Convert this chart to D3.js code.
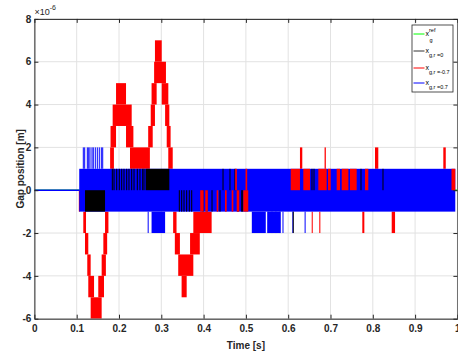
<!DOCTYPE html>
<html>
<head>
<meta charset="utf-8">
<script src="https://cdn.jsdelivr.net/npm/d3@7"></script>
<style>
  body { margin: 0; background: #fff; }
  text { font-family: "Liberation Sans Narrow", "Liberation Sans", Arial, sans-serif; }
</style>
</head>
<body>
<div id="chart"></div>
<script>
// Ticks
const xTicks = [0, 0.1, 0.2, 0.3, 0.4, 0.5, 0.6, 0.7, 0.8, 0.9, 1];
const yTicks = [-6, -4, -2, 0, 2, 4, 6, 8];   // x 1e-6 m

// Reference gap (flat)
const refSeries = [[0, 0], [1, 0]];

// Switching regions: [t0, t1, low level, high level]
const redBands = [
  [0.105, 0.108, -1, 0],
  [0.1156, 0.122, -2, -1],
  [0.1196, 0.1274, -3, -2],
  [0.125, 0.133, -4, -3],
  [0.1274, 0.141, -5, -4],
  [0.133, 0.159, -6, -5],
  [0.151, 0.1645, -5, -4],
  [0.159, 0.169, -4, -3],
  [0.163, 0.172, -3, -2],
  [0.167, 0.175, -2, -1],
  [0.179, 0.188, 1, 2],
  [0.180, 0.193, 2, 3],
  [0.185, 0.230, 3, 4],
  [0.193, 0.2166, 4, 5],
  [0.2166, 0.234, 2, 3],
  [0.226, 0.273, 1, 2],
  [0.269, 0.2797, 2, 3],
  [0.275, 0.285, 3, 4],
  [0.277, 0.289, 4, 5],
  [0.283, 0.311, 5, 6],
  [0.285, 0.301, 6, 7],
  [0.301, 0.3166, 4, 5],
  [0.309, 0.319, 3, 4],
  [0.3128, 0.322, 2, 3],
  [0.3165, 0.327, 1, 2],
  [0.328, 0.336, -2, -1],
  [0.332, 0.344, -3, -2],
  [0.340, 0.3757, -4, -3],
  [0.348, 0.360, -5, -4],
  [0.368, 0.391, -3, -2],
  [0.3757, 0.419, -2, -1]
];
const redSpikes = [
  [0.6278, 0.6333, 1, 2], [0.6860, 0.6890, 1, 2], [0.8052, 0.8130, 1, 2], [0.9667, 0.9725, 1, 2],
  [0.6556, 0.6580, -2, -1], [0.6735, 0.6760, -2, -1], [0.7752, 0.7800, -2, -1], [0.8447, 0.8526, -2, -1]
];
// red visible through the blue band
const redInBand = [
  [0.392, 0.400, -1, 0], [0.404, 0.410, -1, 0], [0.4309, 0.4348, -1, 0], [0.4506, 0.4546, -1, 0],
  [0.4664, 0.4703, -1, 0], [0.4782, 0.4844, -1, 0], [0.4938, 0.5056, -1, 0],
  [0.4747, 0.4787, 0, 1], [0.4991, 0.5030, 0, 1],
  [0.6060, 0.6278, 0, 1], [0.6357, 0.6515, 0, 1], [0.6712, 0.6910, 0, 1], [0.6941, 0.7005, 0, 1],
  [0.7146, 0.7225, 0, 1], [0.7265, 0.7423, 0, 1], [0.7461, 0.7619, 0, 1], [0.7816, 0.7894, 0, 1],
  [0.9860, 0.9950, 0, 1]
];

const blueFlat = [[0, 0], [0.106, 0]];
const blueBands = [
  [0.106, 0.995, -1, 1],
  [0.277, 0.309, -2, -1],
  [0.514, 0.547, -2, -1],
  [0.551, 0.582, -2, -1]
];
// single switches: [t, low, high]
const blueLines = [
  [0.1156, 1, 2], [0.1189, 1, 2], [0.1251, 1, 2], [0.1284, 1, 2], [0.1314, 1, 2], [0.1362, 1, 2],
  [0.1392, 1, 2], [0.1440, 1, 2], [0.1487, 1, 2], [0.1534, 1, 2], [0.1582, 1, 2], [0.1615, 1, 2],
  [0.269, -2, -1], [0.552, -2, -1], [0.5617, -2, -1], [0.571, -2, -1], [0.5806, -2, -1],
  [0.5877, -2, -1], [0.611, -2, -1], [0.640, -2, -1]
];

const blackBands = [
  [0.1196, 0.167, -1, 0],
  [0.263, 0.319, 0, 1]
];
const blackLines = [
  [0.1842, 0, 1], [0.1882, 0, 1], [0.1946, 0, 1], [0.2007, 0, 1], [0.2064, 0, 1], [0.2118, 0, 1],
  [0.2182, 0, 1], [0.2236, 0, 1], [0.2300, 0, 1], [0.2355, 0, 1], [0.2433, 0, 1], [0.2496, 0, 1],
  [0.2560, 0, 1], [0.2591, 0, 1], [0.4459, 0, 1], [0.4624, 0, 1], [0.4742, 0, 1],
  [0.6562, 0, 1], [0.6610, 0, 1], [0.7721, 0, 1], [0.8241, 0, 1],
  [0.3426, -1, 0], [0.3482, -1, 0], [0.3537, -1, 0], [0.3600, -1, 0], [0.3662, -1, 0],
  [0.3719, -1, 0], [0.3986, -1, 0], [0.4080, -1, 0], [0.4199, -1, 0], [0.4388, -1, 0],
  [0.4813, -1, 0], [0.4901, -1, 0], [0.4924, -1, 0], [0.612, -2, -1]
];

const legendNames = [
  { base: "x", sup: "ref", sub: "g", color: "#00ff00" },
  { base: "x", sub: "g,r =0", color: "#333333" },
  { base: "x", sub: "g,r =-0.7", color: "#ff0000" },
  { base: "x", sub: "g,r =0.7", color: "#0000ff" }
];

const width = 458;
const height = 356;

const svg = d3.select("#chart")
    .append("svg")
    .attr("width", width)
    .attr("height", height);

const x = d3.scaleLinear().domain([0, 1]).range([34.4, 457.4]);
const y = d3.scaleLinear().domain([-6, 8]).range([318.7, 18.9]);

// grille
const grid = svg.append("g");
grid.selectAll(null).data(xTicks).enter().append("line")
    .attr("x1", d => x(d)).attr("x2", d => x(d))
    .attr("y1", y(8)).attr("y2", y(-6))
    .attr("stroke", "#e2e2e2");
grid.selectAll(null).data(yTicks).enter().append("line")
    .attr("x1", x(0)).attr("x2", x(1))
    .attr("y1", d => y(d)).attr("y2", d => y(d))
    .attr("stroke", "#e2e2e2");

svg.append("clipPath").attr("id", "clip").append("rect")
    .attr("x", x(0)).attr("y", y(8))
    .attr("width", x(1) - x(0)).attr("height", y(-6) - y(8));

const plot = svg.append("g").attr("clip-path", "url(#clip)");

const line = d3.line().x(d => x(d[0])).y(d => y(d[1]));

function drawBands(data, color) {
    plot.append("g").selectAll("rect").data(data).enter().append("rect")
        .attr("x", d => x(d[0]))
        .attr("width", d => Math.max(1, x(d[1]) - x(d[0])))
        .attr("y", d => y(d[3]))
        .attr("height", d => y(d[2]) - y(d[3]))
        .attr("fill", color);
}
function drawLines(data, color) {
    plot.append("g").selectAll("line").data(data).enter().append("line")
        .attr("x1", d => x(d[0])).attr("x2", d => x(d[0]))
        .attr("y1", d => y(d[1])).attr("y2", d => y(d[2]))
        .attr("stroke", color).attr("stroke-width", 1);
}

plot.append("path").datum(refSeries).attr("d", line)
    .attr("fill", "none").attr("stroke", "#00ff00").attr("stroke-width", 1.5);

drawBands(redBands, "#ff0000");
drawBands(redSpikes, "#ff0000");

plot.append("path").datum(blueFlat).attr("d", line)
    .attr("fill", "none").attr("stroke", "#0000ff").attr("stroke-width", 1.5);
drawBands(blueBands, "#0000ff");
drawLines(blueLines, "#0000ff");

drawBands(blackBands, "#000000");
drawLines(blackLines, "#000000");
drawBands(redInBand, "#ff0000");

// axes (ticks vers l'intérieur, boîte complète)
const axisColor = "#262626";
function styleAxis(g) {
    g.selectAll("path,line").attr("stroke", axisColor);
    g.selectAll("text").attr("fill", "#262626")
        .style("font-size", "10px").style("font-weight", "bold");
}
svg.append("g").attr("transform", `translate(0,${y(-6)})`)
    .call(d3.axisBottom(x).tickValues(xTicks).tickSize(-4).tickSizeOuter(0).tickPadding(6)
        .tickFormat(d => String(d)))
    .call(styleAxis);
svg.append("g").attr("transform", `translate(0,${y(8)})`)
    .call(d3.axisTop(x).tickValues(xTicks).tickSize(-4).tickSizeOuter(0).tickFormat(""))
    .call(styleAxis);
svg.append("g").attr("transform", `translate(${x(0)},0)`)
    .call(d3.axisLeft(y).tickValues(yTicks).tickSize(-4).tickSizeOuter(0).tickPadding(3)
        .tickFormat(d => String(d)))
    .call(styleAxis);
svg.append("g").attr("transform", `translate(${x(1)},0)`)
    .call(d3.axisRight(y).tickValues(yTicks).tickSize(-4).tickSizeOuter(0).tickFormat(""))
    .call(styleAxis);

// exposant
const expo = svg.append("text").attr("x", x(0)).attr("y", 15)
    .attr("fill", "#262626").style("font-size", "9px");
expo.append("tspan").text("\u00d710");
expo.append("tspan").attr("dy", -5).style("font-size", "7px").text("-6");

// titres des axes
svg.append("text")
    .attr("x", (x(0) + x(1)) / 2).attr("y", 349)
    .attr("text-anchor", "middle").attr("fill", "#262626")
    .style("font-size", "10px").style("font-weight", "bold")
    .text("Time [s]");
svg.append("text")
    .attr("transform", `translate(24,${(y(8) + y(-6)) / 2}) rotate(-90)`)
    .attr("text-anchor", "middle").attr("fill", "#262626")
    .style("font-size", "10px").style("font-weight", "bold")
    .text("Gap position [m]");

// légende
const legend = svg.append("g").attr("transform", "translate(412,25)");
legend.append("rect").attr("width", 41).attr("height", 67)
    .attr("fill", "#fff").attr("stroke", "#262626").attr("stroke-width", 0.8);
const rowY = [9, 26, 43, 58];
legendNames.forEach(function(d, i) {
    legend.append("line")
        .attr("x1", 1.5).attr("x2", 12.5)
        .attr("y1", rowY[i]).attr("y2", rowY[i])
        .attr("stroke", d.color).attr("stroke-width", 1);
    const t = legend.append("text").attr("x", 13.5).attr("y", rowY[i] + 2)
        .attr("fill", "#000").style("font-size", "7px");
    t.append("tspan").text(d.base);
    if (d.sup) {
        t.append("tspan").attr("dy", -4).style("font-size", "5.5px").text(d.sup);
        t.append("tspan").attr("x", 17.5).attr("dy", 10).style("font-size", "5.5px").text(d.sub);
    } else {
        t.append("tspan").attr("dy", 4).style("font-size", "5.5px").text(d.sub);
    }
});
</script>
</body>
</html>
